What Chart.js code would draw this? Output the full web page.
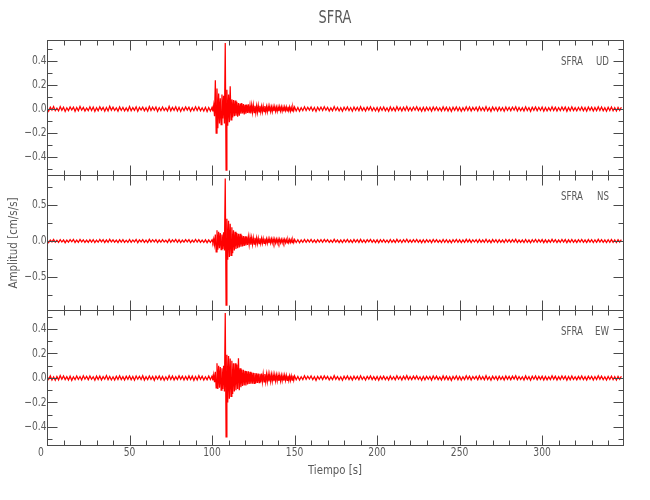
<!DOCTYPE html>
<html>
<head>
<meta charset="utf-8">
<script src="https://cdn.jsdelivr.net/npm/chart.js@4.4.1/dist/chart.umd.min.js"></script>
<style>
  html, body { margin: 0; padding: 0; background: #fff; }
</style>
</head>
<body>
<canvas id="sismo" width="650" height="500"></canvas>
<script>
// Tiempo de cada muestra (s): cada 1 s, y cada 0.5 s durante la llegada de las ondas
const tiempo = [
    0, 1, 2, 3, 4, 5, 6, 7, 8, 9,
    10, 11, 12, 13, 14, 15, 16, 17, 18, 19,
    20, 21, 22, 23, 24, 25, 26, 27, 28, 29,
    30, 31, 32, 33, 34, 35, 36, 37, 38, 39,
    40, 41, 42, 43, 44, 45, 46, 47, 48, 49,
    50, 51, 52, 53, 54, 55, 56, 57, 58, 59,
    60, 61, 62, 63, 64, 65, 66, 67, 68, 69,
    70, 71, 72, 73, 74, 75, 76, 77, 78, 79,
    80, 81, 82, 83, 84, 85, 86, 87, 88, 89,
    90, 91, 92, 93, 94, 95, 96, 97, 98, 99,
    100,
    100.5, 101, 101.5, 102, 102.5, 103, 103.5, 104, 104.5, 105,
    105.5, 106, 106.5, 107, 107.5, 108, 108.5, 109, 109.5, 110,
    110.5, 111, 111.5, 112, 112.5, 113, 113.5, 114, 114.5, 115,
    115.5, 116, 116.5, 117, 117.5, 118, 118.5, 119, 119.5, 120,
    120.5, 121, 121.5, 122, 122.5, 123, 123.5, 124, 124.5, 125,
    125.5, 126, 126.5, 127, 127.5, 128, 128.5, 129, 129.5, 130,
    130.5, 131, 131.5, 132, 132.5, 133, 133.5, 134, 134.5, 135,
    135.5, 136, 136.5, 137, 137.5, 138, 138.5, 139, 139.5, 140,
    140.5, 141, 141.5, 142, 142.5, 143, 143.5, 144, 144.5, 145,
    145.5, 146, 146.5, 147, 147.5, 148, 148.5, 149, 149.5, 150,
    151, 152, 153, 154, 155, 156, 157, 158, 159, 160,
    161, 162, 163, 164, 165, 166, 167, 168, 169, 170,
    171, 172, 173, 174, 175, 176, 177, 178, 179, 180,
    181, 182, 183, 184, 185, 186, 187, 188, 189, 190,
    191, 192, 193, 194, 195, 196, 197, 198, 199, 200,
    201, 202, 203, 204, 205, 206, 207, 208, 209, 210,
    211, 212, 213, 214, 215, 216, 217, 218, 219, 220,
    221, 222, 223, 224, 225, 226, 227, 228, 229, 230,
    231, 232, 233, 234, 235, 236, 237, 238, 239, 240,
    241, 242, 243, 244, 245, 246, 247, 248, 249, 250,
    251, 252, 253, 254, 255, 256, 257, 258, 259, 260,
    261, 262, 263, 264, 265, 266, 267, 268, 269, 270,
    271, 272, 273, 274, 275, 276, 277, 278, 279, 280,
    281, 282, 283, 284, 285, 286, 287, 288, 289, 290,
    291, 292, 293, 294, 295, 296, 297, 298, 299, 300,
    301, 302, 303, 304, 305, 306, 307, 308, 309, 310,
    311, 312, 313, 314, 315, 316, 317, 318, 319, 320,
    321, 322, 323, 324, 325, 326, 327, 328, 329, 330,
    331, 332, 333, 334, 335, 336, 337, 338, 339, 340,
    341, 342, 343, 344, 345, 346, 347, 348
];

// Amplitud (cm/s/s), componente vertical
const ampUD = [
    0.012, -0.018, 0.015, -0.009, 0.02, -0.014, 0.007, -0.016, 0.019, -0.011,
    0.014, -0.02, 0.01, -0.013, 0.017, -0.008, 0.016, -0.019, 0.012, -0.015,
    0.021, -0.01, 0.013, -0.017, 0.009, -0.014, 0.018, -0.012, 0.016, -0.02,
    0.011, -0.015, 0.019, -0.009, 0.014, -0.018, 0.012, -0.016, 0.023, -0.011,
    0.015, -0.013, 0.01, -0.019, 0.017, -0.012, 0.014, -0.016, 0.009, -0.017,
    0.02, -0.014, 0.012, -0.011, 0.018, -0.02, 0.013, -0.009, 0.016, -0.015,
    0.011, -0.018, 0.021, -0.013, 0.015, -0.01, 0.017, -0.019, 0.012, -0.014,
    0.016, -0.012, 0.009, -0.017, 0.022, -0.015, 0.013, -0.011, 0.018, -0.016,
    0.014, -0.02, 0.012, -0.013, 0.017, -0.009, 0.015, -0.018, 0.011, -0.014,
    0.019, -0.012, 0.016, -0.015, 0.01, -0.017, 0.014, -0.021, 0.013, -0.016,
    0.015,
    -0.02, 0.03, -0.06, 0.24, -0.2, 0.17, -0.16, 0.13, -0.12, 0.09,
    -0.13, 0.12, -0.08, 0.11, -0.12, 0.55, -0.51, 0.16, -0.14, 0.12,
    -0.11, 0.19, -0.09, 0.08, -0.07, 0.075, -0.06, 0.07, -0.055, 0.06,
    -0.065, 0.05, -0.055, 0.045, -0.04, 0.05, -0.038, 0.042, -0.045, 0.036,
    -0.04, 0.038, -0.032, 0.04, -0.035, 0.03, -0.036, 0.032, -0.028, 0.034,
    -0.03, 0.027, -0.032, 0.026, -0.028, 0.03, -0.024, 0.027, -0.025, 0.022,
    -0.026, 0.024, -0.021, 0.025, -0.023, 0.02, -0.024, 0.022, -0.019, 0.023,
    -0.021, 0.018, -0.022, 0.02, -0.017, 0.021, -0.019, 0.016, -0.02, 0.018,
    -0.017, 0.02, -0.016, 0.019, -0.018, 0.015, -0.019, 0.017, -0.014, 0.018,
    -0.016, 0.019, -0.015, 0.017, -0.018, 0.014, -0.016, 0.018, -0.013, 0.017,
    -0.016, 0.013, -0.018, 0.011, -0.014, 0.019, -0.012, 0.015, -0.009, 0.017,
    -0.015, 0.012, -0.02, 0.014, -0.011, 0.016, -0.013, 0.018, -0.01, 0.014,
    -0.017, 0.009, -0.015, 0.02, -0.012, 0.013, -0.016, 0.011, -0.019, 0.015,
    -0.01, 0.017, -0.014, 0.012, -0.018, 0.016, -0.011, 0.014, -0.015, 0.019,
    -0.013, 0.011, -0.017, 0.015, -0.009, 0.018, -0.014, 0.012, -0.016, 0.013,
    -0.019, 0.014, -0.012, 0.016, -0.015, 0.01, -0.018, 0.017, -0.013, 0.011,
    -0.016, 0.019, -0.011, 0.013, -0.017, 0.015, -0.012, 0.02, -0.014, 0.012,
    -0.015, 0.016, -0.01, 0.018, -0.013, 0.011, -0.019, 0.014, -0.016, 0.015,
    -0.012, 0.013, -0.018, 0.017, -0.011, 0.016, -0.014, 0.01, -0.017, 0.018,
    -0.013, 0.015, -0.016, 0.012, -0.02, 0.014, -0.011, 0.017, -0.015, 0.013,
    -0.018, 0.011, -0.014, 0.019, -0.012, 0.016, -0.017, 0.013, -0.01, 0.015,
    -0.016, 0.018, -0.013, 0.012, -0.015, 0.02, -0.014, 0.011, -0.019, 0.016,
    -0.011, 0.014, -0.017, 0.015, -0.013, 0.012, -0.018, 0.017, -0.012, 0.014,
    -0.015, 0.016, -0.01, 0.019, -0.016, 0.013, -0.014, 0.011, -0.017, 0.018,
    -0.013, 0.012, -0.019, 0.015, -0.011, 0.017, -0.015, 0.014, -0.012, 0.016,
    -0.018, 0.013, -0.016, 0.011, -0.014, 0.019, -0.012, 0.015, -0.017, 0.012,
    -0.014, 0.017, -0.011, 0.016, -0.019, 0.013, -0.015, 0.018, -0.013, 0.011,
    -0.016, 0.014, -0.012, 0.017, -0.015, 0.012, -0.018, 0.016, -0.011, 0.015,
    -0.017, 0.013, -0.014, 0.019, -0.012, 0.016, -0.015, 0.011, -0.018, 0.014,
    -0.013, 0.016, -0.015, 0.012, -0.017, 0.014, -0.011, 0.015
];

// componente norte-sur
const ampNS = [
    0.018, -0.021, 0.015, -0.012, 0.022, -0.017, 0.011, -0.019, 0.02, -0.014,
    0.016, -0.023, 0.013, -0.016, 0.019, -0.011, 0.021, -0.02, 0.014, -0.018,
    0.023, -0.013, 0.017, -0.02, 0.012, -0.018, 0.02, -0.015, 0.019, -0.022,
    0.014, -0.017, 0.021, -0.012, 0.018, -0.02, 0.015, -0.019, 0.024, -0.013,
    0.017, -0.016, 0.012, -0.022, 0.02, -0.014, 0.018, -0.019, 0.011, -0.02,
    0.022, -0.017, 0.015, -0.013, 0.021, -0.023, 0.016, -0.012, 0.019, -0.018,
    0.013, -0.021, 0.023, -0.016, 0.018, -0.012, 0.02, -0.022, 0.015, -0.017,
    0.019, -0.014, 0.012, -0.02, 0.024, -0.018, 0.016, -0.013, 0.021, -0.019,
    0.017, -0.022, 0.014, -0.016, 0.02, -0.012, 0.018, -0.021, 0.013, -0.017,
    0.022, -0.015, 0.019, -0.018, 0.012, -0.02, 0.017, -0.023, 0.016, -0.019,
    0.018,
    -0.02, 0.03, -0.05, 0.09, -0.15, 0.15, -0.12, 0.13, -0.1, 0.11,
    -0.12, 0.09, -0.11, 0.12, -0.13, 0.87, -0.89, 0.31, -0.26, 0.28,
    -0.22, 0.24, -0.2, 0.19, -0.17, 0.15, -0.13, 0.13, -0.11, 0.11,
    -0.1, 0.1, -0.09, 0.1, -0.08, 0.08, -0.075, 0.07, -0.07, 0.065,
    -0.06, 0.062, -0.055, 0.058, -0.05, 0.052, -0.05, 0.045, -0.048, 0.046,
    -0.042, 0.045, -0.04, 0.042, -0.038, 0.04, -0.036, 0.038, -0.035, 0.036,
    -0.034, 0.035, -0.032, 0.034, -0.031, 0.03, -0.032, 0.029, -0.03, 0.031,
    -0.028, 0.03, -0.027, 0.029, -0.026, 0.028, -0.027, 0.025, -0.027, 0.026,
    -0.024, 0.026, -0.025, 0.023, -0.025, 0.024, -0.022, 0.024, -0.023, 0.022,
    -0.024, 0.021, -0.023, 0.022, -0.02, 0.023, -0.021, 0.02, -0.022, 0.021,
    -0.021, 0.018, -0.023, 0.016, -0.019, 0.022, -0.017, 0.02, -0.014, 0.021,
    -0.019, 0.016, -0.022, 0.018, -0.015, 0.02, -0.017, 0.022, -0.013, 0.018,
    -0.02, 0.013, -0.018, 0.023, -0.016, 0.017, -0.02, 0.015, -0.022, 0.019,
    -0.014, 0.021, -0.018, 0.016, -0.022, 0.02, -0.015, 0.018, -0.019, 0.023,
    -0.017, 0.015, -0.021, 0.019, -0.013, 0.022, -0.018, 0.016, -0.02, 0.017,
    -0.023, 0.018, -0.016, 0.02, -0.019, 0.014, -0.022, 0.021, -0.017, 0.015,
    -0.02, 0.023, -0.015, 0.017, -0.021, 0.019, -0.016, 0.024, -0.018, 0.016,
    -0.019, 0.02, -0.014, 0.022, -0.017, 0.015, -0.023, 0.018, -0.02, 0.019,
    -0.016, 0.017, -0.022, 0.021, -0.015, 0.02, -0.018, 0.014, -0.021, 0.022,
    -0.017, 0.019, -0.02, 0.016, -0.024, 0.018, -0.015, 0.021, -0.019, 0.017,
    -0.022, 0.015, -0.018, 0.023, -0.016, 0.02, -0.021, 0.017, -0.014, 0.019,
    -0.02, 0.022, -0.017, 0.016, -0.019, 0.024, -0.018, 0.015, -0.023, 0.02,
    -0.015, 0.018, -0.021, 0.019, -0.017, 0.016, -0.022, 0.021, -0.016, 0.018,
    -0.019, 0.02, -0.014, 0.023, -0.02, 0.017, -0.018, 0.015, -0.021, 0.022,
    -0.017, 0.016, -0.023, 0.019, -0.015, 0.021, -0.019, 0.018, -0.016, 0.02,
    -0.022, 0.017, -0.02, 0.015, -0.018, 0.023, -0.016, 0.019, -0.021, 0.016,
    -0.018, 0.021, -0.015, 0.02, -0.023, 0.017, -0.019, 0.022, -0.017, 0.015,
    -0.02, 0.018, -0.016, 0.021, -0.019, 0.016, -0.022, 0.02, -0.015, 0.019,
    -0.021, 0.017, -0.018, 0.023, -0.016, 0.02, -0.019, 0.015, -0.022, 0.018,
    -0.017, 0.02, -0.019, 0.016, -0.021, 0.018, -0.015, 0.019
];

// componente este-oeste
const ampEW = [
    0.014, -0.011, 0.017, -0.016, 0.009, -0.018, 0.013, -0.015, 0.019, -0.01,
    0.016, -0.013, 0.011, -0.017, 0.015, -0.019, 0.01, -0.014, 0.017, -0.012,
    0.012, -0.016, 0.018, -0.01, 0.014, -0.015, 0.017, -0.011, 0.01, -0.018,
    0.015, -0.013, 0.016, -0.017, 0.011, -0.01, 0.02, -0.014, 0.013, -0.016,
    0.01, -0.017, 0.015, -0.012, 0.018, -0.013, 0.011, -0.016, 0.014, -0.011,
    0.017, -0.015, 0.012, -0.018, 0.016, -0.01, 0.014, -0.013, 0.019, -0.017,
    0.011, -0.014, 0.016, -0.012, 0.013, -0.019, 0.015, -0.01, 0.017, -0.015,
    0.013, -0.018, 0.01, -0.014, 0.02, -0.012, 0.016, -0.017, 0.011, -0.013,
    0.018, -0.011, 0.014, -0.016, 0.012, -0.015, 0.017, -0.013, 0.015, -0.019,
    0.012, -0.016, 0.019, -0.011, 0.014, -0.017, 0.01, -0.015, 0.016, -0.012,
    0.016,
    -0.02, 0.025, -0.035, 0.05, -0.08, 0.12, -0.09, 0.1, -0.08, 0.09,
    -0.1, 0.08, -0.09, 0.1, -0.11, 0.53, -0.48, 0.19, -0.2, 0.18,
    -0.17, 0.16, -0.15, 0.14, -0.13, 0.12, -0.11, 0.12, -0.1, 0.11,
    -0.09, 0.16, -0.1, 0.08, -0.075, 0.07, -0.065, 0.068, -0.06, 0.058,
    -0.06, 0.055, -0.052, 0.055, -0.048, 0.05, -0.047, 0.045, -0.046, 0.042,
    -0.044, 0.04, -0.042, 0.038, -0.04, 0.036, -0.038, 0.035, -0.034, 0.036,
    -0.032, 0.033, -0.031, 0.032, -0.03, 0.031, -0.029, 0.03, -0.028, 0.029,
    -0.027, 0.028, -0.026, 0.027, -0.025, 0.026, -0.024, 0.025, -0.023, 0.024,
    -0.023, 0.022, -0.024, 0.021, -0.022, 0.02, -0.021, 0.022, -0.019, 0.021,
    -0.02, 0.019, -0.021, 0.018, -0.02, 0.019, -0.017, 0.02, -0.018, 0.017,
    -0.015, 0.012, -0.017, 0.01, -0.013, 0.018, -0.011, 0.014, -0.009, 0.016,
    -0.014, 0.011, -0.019, 0.013, -0.01, 0.015, -0.012, 0.017, -0.009, 0.013,
    -0.016, 0.009, -0.014, 0.019, -0.011, 0.012, -0.015, 0.01, -0.018, 0.014,
    -0.01, 0.016, -0.013, 0.011, -0.017, 0.015, -0.01, 0.013, -0.014, 0.018,
    -0.012, 0.01, -0.016, 0.014, -0.009, 0.017, -0.013, 0.011, -0.015, 0.012,
    -0.018, 0.013, -0.011, 0.015, -0.014, 0.01, -0.017, 0.016, -0.012, 0.01,
    -0.015, 0.018, -0.01, 0.012, -0.016, 0.014, -0.011, 0.019, -0.013, 0.011,
    -0.014, 0.015, -0.009, 0.017, -0.012, 0.01, -0.018, 0.013, -0.015, 0.014,
    -0.011, 0.012, -0.017, 0.016, -0.01, 0.015, -0.013, 0.009, -0.016, 0.017,
    -0.012, 0.014, -0.015, 0.011, -0.019, 0.013, -0.01, 0.016, -0.014, 0.012,
    -0.017, 0.01, -0.013, 0.018, -0.011, 0.015, -0.016, 0.012, -0.009, 0.014,
    -0.015, 0.017, -0.012, 0.011, -0.014, 0.019, -0.013, 0.01, -0.018, 0.015,
    -0.01, 0.013, -0.016, 0.014, -0.012, 0.011, -0.017, 0.016, -0.011, 0.013,
    -0.014, 0.015, -0.009, 0.018, -0.015, 0.012, -0.013, 0.01, -0.016, 0.017,
    -0.012, 0.011, -0.018, 0.014, -0.01, 0.016, -0.014, 0.013, -0.011, 0.015,
    -0.017, 0.012, -0.015, 0.01, -0.013, 0.018, -0.011, 0.014, -0.016, 0.011,
    -0.013, 0.016, -0.01, 0.015, -0.018, 0.012, -0.014, 0.017, -0.012, 0.01,
    -0.015, 0.013, -0.011, 0.016, -0.014, 0.011, -0.017, 0.015, -0.01, 0.014,
    -0.016, 0.012, -0.013, 0.018, -0.011, 0.015, -0.014, 0.01, -0.017, 0.013,
    -0.012, 0.015, -0.014, 0.011, -0.016, 0.013, -0.01, 0.014
];

// Marcas de los ejes
const xTicks = [0, 50, 100, 150, 200, 250, 300];
const ticksUD = [-0.4, -0.2, 0, 0.2, 0.4];
const menoresUD = [-0.5, -0.3, -0.1, 0.1, 0.3, 0.5];
const ticksNS = [-0.5, 0, 0.5];
const menoresNS = [-0.75, -0.25, 0.25, 0.75];
const ticksEW = [-0.4, -0.2, 0, 0.2, 0.4];
const menoresEW = [-0.5, -0.3, -0.1, 0.1, 0.3, 0.5];

const estacion = 'SFRA';
const paneles = [
    { id: 'yUD', comp: 'UD', datos: ampUD, min: -0.55, max: 0.575, ticks: ticksUD, menores: menoresUD },
    { id: 'yNS', comp: 'NS', datos: ampNS, min: -0.958, max: 0.917, ticks: ticksNS, menores: menoresNS },
    { id: 'yEW', comp: 'EW', datos: ampEW, min: -0.547, max: 0.555, ticks: ticksEW, menores: menoresEW }
];

const colorEje = '#4a4a4a';
const colorTexto = '#5a5a5a';
const fuente = "'Liberation Sans Narrow', 'DejaVu Sans Condensed', 'DejaVu Sans', sans-serif";

// texto estrecho, parecido a la fuente vectorial del original
function texto(ctx, s, x, y, size, align, sx = 0.85) {
    ctx.save();
    ctx.font = size + 'px ' + fuente;
    ctx.textAlign = align;
    ctx.textBaseline = 'middle';
    ctx.translate(x, y);
    ctx.scale(sx, 1);
    ctx.fillText(s, 0, 0);
    ctx.restore();
}

function etiqueta(v) {
    if (v === 0) return '0.0';
    const s = Math.abs(v).toFixed(1);
    return v < 0 ? '\u2212' + s : s;
}

// Marco, marcas hacia dentro y textos al estilo de los sismogramas
const marcoPlugin = {
    id: 'marco',
    afterDraw(chart) {
        const ctx = chart.ctx;
        const area = chart.chartArea;
        const xs = chart.scales.x;
        const left = Math.round(area.left) + 0.5;
        const right = Math.round(area.right) + 0.5;
        ctx.save();
        ctx.strokeStyle = colorEje;
        ctx.fillStyle = colorTexto;
        ctx.lineWidth = 1;

        paneles.forEach(p => {
            const ys = chart.scales[p.id];
            const top = Math.round(ys.top) + 0.5;
            const bottom = Math.round(ys.bottom) + 0.5;
            ctx.strokeRect(left, top, right - left, bottom - top);
            ctx.beginPath();
            for (let v = 0; v <= 340; v += 10) {
                const len = v % 50 === 0 ? 10 : 5;
                const px = Math.round(xs.getPixelForValue(v)) + 0.5;
                ctx.moveTo(px, top); ctx.lineTo(px, top + len);
                ctx.moveTo(px, bottom); ctx.lineTo(px, bottom - len);
            }
            const marcaY = (v, len) => {
                const py = Math.round(ys.getPixelForValue(v)) + 0.5;
                ctx.moveTo(left, py); ctx.lineTo(left + len, py);
                ctx.moveTo(right, py); ctx.lineTo(right - len, py);
            };
            p.ticks.forEach(v => marcaY(v, 10));
            p.menores.forEach(v => marcaY(v, 5));
            ctx.stroke();

            p.ticks.forEach(v => texto(ctx, etiqueta(v), left - 1, ys.getPixelForValue(v), 12, 'right'));
            texto(ctx, estacion, 561, ys.top + 22, 12, 'left', 0.8);
            texto(ctx, p.comp, 609, ys.top + 22, 12, 'right', 0.8);
        });

        xTicks.forEach(v => {
            const px = xs.getPixelForValue(v) - (v === 0 ? 6 : 0);
            texto(ctx, String(v), px, 453, 12, 'center');
        });

        texto(ctx, estacion, (area.left + area.right) / 2, 18, 18, 'center', 0.8);
        texto(ctx, 'Tiempo [s]', (area.left + area.right) / 2, 471, 13, 'center', 0.87);

        ctx.translate(14, 243);
        ctx.rotate(-Math.PI / 2);
        texto(ctx, 'Amplitud [cm/s/s]', 0, 0, 13, 'center', 0.88);
        ctx.restore();
    }
};

const ejeY = p => ({
    type: 'linear',
    position: 'left',
    stack: 'sismo',
    stackWeight: 1,
    min: p.min,
    max: p.max,
    grid: { display: false },
    border: { display: false },
    ticks: { display: false },
    afterFit: s => { s.width = 47; }
});

const escalas = {
    x: {
        type: 'linear',
        min: 0,
        max: 349,
        grid: { display: false },
        border: { display: false },
        ticks: { display: false },
        afterFit: s => { s.height = 55; }
    }
};
// los ejes izquierdos apilados se colocan de abajo hacia arriba
[...paneles].reverse().forEach(p => { escalas[p.id] = ejeY(p); });

new Chart(document.getElementById('sismo'), {
    type: 'line',
    data: {
        datasets: paneles.map(p => ({
            label: estacion + ' ' + p.comp,
            data: tiempo.map((t, i) => ({ x: t, y: p.datos[i] })),
            yAxisID: p.id,
            borderColor: '#ff0000',
            borderWidth: 1.25,
            pointRadius: 0,
            tension: 0,
            fill: false
        }))
    },
    options: {
        responsive: false,
        animation: false,
        layout: { padding: { top: 40, right: 27, left: 0, bottom: 0 } },
        plugins: {
            legend: { display: false },
            tooltip: { enabled: false }
        },
        scales: escalas
    },
    plugins: [marcoPlugin]
});
</script>
</body>
</html>
